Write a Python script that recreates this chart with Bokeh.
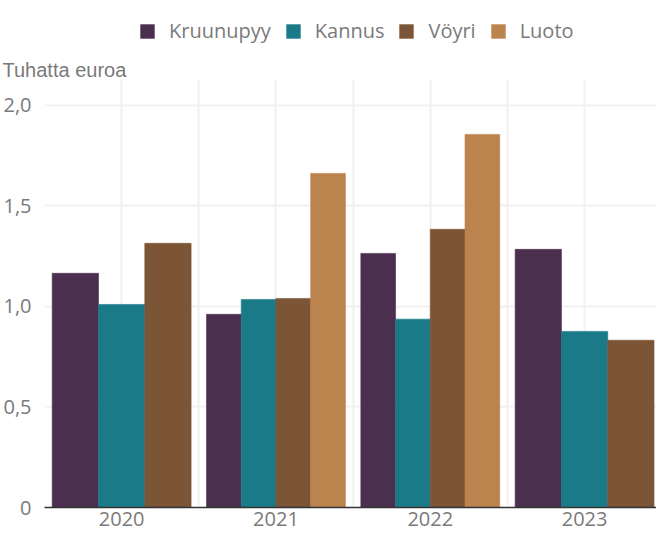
from bokeh.plotting import figure
from bokeh.layouts import column
from bokeh.models import FixedTicker, Legend, LegendItem, Title, Range1d, ColumnDataSource
from bokeh.embed import file_html
from bokeh.resources import INLINE

# ---- data ----
years = ["2020", "2021", "2022", "2023"]
series = ["Kruunupyy", "Kannus", "Vöyri", "Luoto"]
kruunupyy = [1.165, 0.961, 1.264, 1.284]
kannus = [1.010, 1.035, 0.937, 0.876]
voyri = [1.314, 1.040, 1.384, 0.832]
luoto = [None, 1.662, 1.856, None]
colors = ["#4b2f4e", "#1a7a88", "#7b5536", "#bb834e"]
y_ticks = [0, 0.5, 1.0, 1.5, 2.0]
y_tick_labels = ["0", "0,5", "1,0", "1,5", "2,0"]
y_title = "Tuhatta euroa"

values = [kruunupyy, kannus, voyri, luoto]

FONT = "Open Sans"
GREY = "#7a7a7a"
GROUP_FILL = 0.9
W = 656
LEG_H = 50
MAIN_H = 488

# ---- main chart ----
p = figure(width=W, height=MAIN_H,
           x_range=Range1d(0, 3.966), y_range=Range1d(0, 2.129),
           output_backend="svg", toolbar_location=None,
           min_border_left=44, min_border_right=0,
           min_border_top=29, min_border_bottom=31)
p.outline_line_color = None
p.background_fill_color = "white"
p.border_fill_color = "white"

sources = []
for k, s in enumerate(series):
    bx, bw, bt = [], [], []
    for i, yr in enumerate(years):
        present = [m for m in range(len(series)) if values[m][i] is not None]
        if k not in present:
            continue
        n = len(present)
        w = GROUP_FILL / n
        j = present.index(k)
        bx.append(i + 0.5 - GROUP_FILL / 2 + w * (j + 0.5))
        bw.append(w)
        bt.append(values[k][i])
    src = ColumnDataSource(dict(x=bx, w=bw, top=bt))
    sources.append(src)
    p.vbar(x="x", width="w", top="top", bottom=0, source=src,
           fill_color=colors[k], line_color=colors[k], line_width=0.6)

center_ticks = [i + 0.5 for i in range(len(years))]
p.xaxis.ticker = FixedTicker(ticks=center_ticks)
p.xaxis.major_label_overrides = {c: y for c, y in zip(center_ticks, years)}
p.xaxis.axis_line_color = "#333333"
p.xaxis.axis_line_width = 1.5
p.xaxis.major_tick_line_color = None
p.xaxis.minor_tick_line_color = None
p.xaxis.major_tick_in = 0
p.xaxis.major_tick_out = 0
p.xaxis.major_label_standoff = 4
p.xaxis.major_label_text_font = FONT
p.xaxis.major_label_text_font_size = "20px"
p.xaxis.major_label_text_color = GREY

p.yaxis.ticker = FixedTicker(ticks=y_ticks)
p.yaxis.major_label_overrides = {t: l for t, l in zip(y_ticks, y_tick_labels)}
p.yaxis.axis_line_color = None
p.yaxis.major_tick_line_color = None
p.yaxis.minor_tick_line_color = None
p.yaxis.major_tick_in = 0
p.yaxis.major_tick_out = 0
p.yaxis.major_label_standoff = 13
p.yaxis.major_label_text_font = FONT
p.yaxis.major_label_text_font_size = "20px"
p.yaxis.major_label_text_color = GREY

p.xgrid.ticker = FixedTicker(ticks=[k * 0.5 for k in range(1, 2 * len(years))])
p.ygrid.ticker = FixedTicker(ticks=y_ticks)
for g in (p.xgrid, p.ygrid):
    g.grid_line_color = "#f1f1f1"
    g.grid_line_width = 2

p.title = Title(text=y_title, align="left", offset=-42, standoff=-2,
                text_font="Liberation Sans", text_font_size="20px",
                text_font_style="normal", text_color=GREY)
p.title_location = "above"

# ---- legend strip (its renderers share the data but sit far outside its view) ----
lf = figure(width=W, height=LEG_H, x_range=Range1d(100, 101), y_range=Range1d(100, 101),
            output_backend="svg", toolbar_location=None,
            x_axis_type=None, y_axis_type=None, min_border=0)
lf.outline_line_color = None
lf.xgrid.visible = False
lf.ygrid.visible = False
items = []
for k, s in enumerate(series):
    r = lf.vbar(x="x", width="w", top="top", bottom=0, source=sources[k],
                fill_color=colors[k], line_color=None)
    items.append(LegendItem(label=s, renderers=[r]))
legend = Legend(items=items, orientation="horizontal", location=(94, 6),
                glyph_width=18, glyph_height=18, label_height=18,
                label_standoff=13, spacing=13, padding=0, margin=0,
                border_line_color=None, background_fill_alpha=0,
                label_text_font=FONT, label_text_font_size="20px",
                label_text_color=GREY)
lf.add_layout(legend, "center")

layout = column(lf, p, spacing=0)
open("out.html", "w").write(file_html(layout, INLINE))
